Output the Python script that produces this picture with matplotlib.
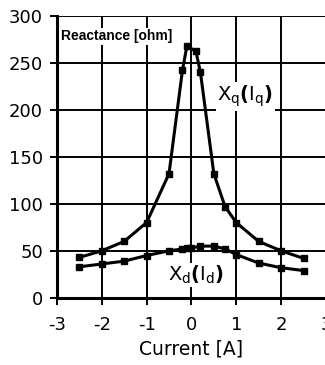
import matplotlib
matplotlib.use("Agg")
import matplotlib.pyplot as plt

plt.rcParams['font.family'] = ['DejaVu Sans']
plt.rcParams['axes.unicode_minus'] = False
plt.rcParams['mathtext.fontset'] = 'dejavusans'

# Xq(Iq) curve
iq = [-2.5, -2, -1.5, -1, -0.5, -0.2, -0.1, 0.1, 0.2, 0.5, 0.75, 1, 1.5, 2, 2.5]
xq = [43, 50, 60, 80, 132, 242, 268, 262, 240, 132, 97, 80, 60, 50, 42]

# Xd(Id) curve
id_ = [-2.5, -2, -1.5, -1, -0.5, -0.2, -0.1, 0, 0.2, 0.5, 0.75, 1, 1.5, 2, 2.5]
xd = [33, 36, 39, 45, 50, 52, 53, 53, 55, 55, 52, 46, 37, 32, 29]

xticks = [-3, -2, -1, 0, 1, 2, 3]
yticks = [0, 50, 100, 150, 200, 250, 300]

fig = plt.figure(figsize=(3.25, 3.65), dpi=100)
ax = fig.add_axes([0.175, 0.184, 0.828, 0.773])

ax.plot(iq, xq, color='black', lw=2.2, marker='s', ms=5, zorder=3)
ax.plot(id_, xd, color='black', lw=2.2, marker='s', ms=5, zorder=3)

ax.set_xlim(-3, 3)
ax.set_ylim(0, 300)
ax.set_xticks(xticks)
ax.set_yticks(yticks)
ax.grid(True, color='black', lw=1.4)
ax.set_axisbelow(True)
for s in ax.spines.values():
    s.set_visible(False)
for side in ['left', 'bottom']:
    ax.spines[side].set_visible(True)
    ax.spines[side].set_linewidth(2.2)
ax.tick_params(axis='both', labelsize=13, width=1.4, length=5, direction='out')
ax.tick_params(axis='x', pad=8)
ax.tick_params(axis='y', pad=5)
ax.set_xlabel("Current [A]", fontsize=13.5, labelpad=4)

ax.text(-2.9, 278, "Reactance [ohm]", fontsize=10, fontweight='bold',
        ha='left', va='center', family=['Liberation Sans'],
        bbox=dict(facecolor='white', edgecolor='none', pad=1))
ax.text(1.2, 214, r"$\mathregular{X_q}\mathbf{(}\mathregular{I_q}\mathbf{)}$",
        fontsize=14, ha='center', va='center',
        bbox=dict(facecolor='white', edgecolor='none', pad=1))
ax.text(0.1, 24, r"$\mathregular{X_d}\mathbf{(}\mathregular{I_d}\mathbf{)}$",
        fontsize=14, ha='center', va='center',
        bbox=dict(facecolor='white', edgecolor='none', pad=0.5))

fig.savefig("out.png", dpi=100)
